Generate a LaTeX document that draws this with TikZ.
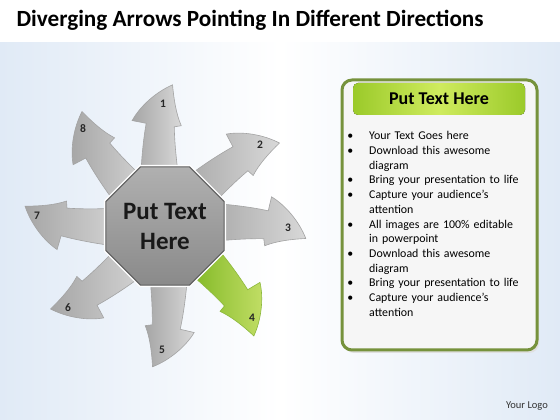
\documentclass[tikz,border=0pt]{standalone}
\usepackage{fontspec}
\setmainfont{Carlito}
\usetikzlibrary{shapes.geometric}
\definecolor{slideblue}{HTML}{E0EAF6}
\definecolor{spokedark}{HTML}{A6A6A6}
\definecolor{spokelight}{HTML}{D8D8D8}
\definecolor{spokeedge}{HTML}{A3A3A3}
\definecolor{leafdark}{HTML}{76B21A}
\definecolor{leaflight}{HTML}{C2DE66}
\definecolor{leafedge}{HTML}{8CB83C}
\definecolor{hubtop}{HTML}{B0B0B0}
\definecolor{hubbottom}{HTML}{8A8A8A}
\definecolor{hubedge}{HTML}{5E5E5E}
\definecolor{boxgreen}{HTML}{76923C}
\definecolor{boxfill}{HTML}{F6F6F6}
\definecolor{barside}{HTML}{9BCA2A}
\definecolor{barmid}{HTML}{CFEB5E}

\tikzset{
  pics/spoke/.style={code={
    \path[#1] (36,24) .. controls (65,23) and (88,20) .. (103,17)
      -- (106,31) .. controls (120,23) and (134,7) .. (141,-10)
      .. controls (127,-11) and (112,-13) .. (100,-18)
      -- (99,-11) .. controls (80,-11) and (60,-13) .. (36,-16) -- cycle;
  }}
}

\begin{document}
\begin{tikzpicture}[x=1pt,y=1pt,
  greyspoke/.style={left color=spokedark,right color=spokelight,draw=spokeedge,line width=0.6pt},
  leafspoke/.style={left color=leafdark,right color=leaflight,draw=leafedge,line width=0.6pt},
  spokenum/.style={font=\fontsize{11.5}{12}\selectfont\bfseries,text=black!85,inner sep=0pt},
  hub/.style={regular polygon,regular polygon sides=8,minimum size=119pt,inner sep=0pt,
    top color=hubtop,bottom color=hubbottom,draw=hubedge,line width=1.2pt,
    preaction={draw=white,line width=4pt},align=center,
    font=\fontsize{25}{30}\selectfont\bfseries,text=black!90}]
  \useasboundingbox (0,0) rectangle (560,420);
  \fill[left color=slideblue,right color=slideblue,middle color=white] (0,0) rectangle (560,378);
  \fill[white] (0,378) rectangle (560,420);

  \node[anchor=base west,font=\fontsize{23.2}{28}\selectfont\bfseries] (title) at (13,393)
    {Diverging Arrows Pointing In Different Directions};

  \pic (s1) at (165,194) {spoke={greyspoke,rotate=91}};
  \pic (s2) at (165,194) {spoke={greyspoke,rotate=40}};
  \pic (s3) at (165,194) {spoke={greyspoke,rotate=-1}};
  \pic (s4) at (165,194) {spoke={leafspoke,rotate=-47}};
  \pic (s5) at (165,194) {spoke={greyspoke,rotate=-91}};
  \pic (s6) at (165,194) {spoke={greyspoke,rotate=-140}};
  \pic (s7) at (165,194) {spoke={greyspoke,rotate=176}};
  \pic (s8) at (165,194) {spoke={greyspoke,rotate=130}};

  \node[hub] (hub) at (165,194) {Put Text\\Here};

  \node[spokenum] (n1) at (163,316) {1};
  \node[spokenum] (n2) at (260,275) {2};
  \node[spokenum] (n3) at (288,192) {3};
  \node[spokenum] (n4) at (252,102) {4};
  \node[spokenum] (n5) at (162,70) {5};
  \node[spokenum] (n6) at (68,112) {6};
  \node[spokenum] (n7) at (37,204) {7};
  \node[spokenum] (n8) at (83,291) {8};

  \fill[black!12,rounded corners=10pt] (344,67) rectangle (539,337);
  \draw[boxgreen,line width=3pt,fill=boxfill,rounded corners=10pt] (342,70) rectangle (537,340);
  \fill[left color=barside,right color=barside,middle color=barmid,rounded corners=5pt] (353,305) rectangle (525,337);
  \node[font=\fontsize{18}{21}\selectfont\bfseries] (head) at (439,321) {Put Text Here};

  \node[anchor=north west,text width=180pt,inner sep=0pt,font=\fontsize{11.9}{14.7}\selectfont] (notes) at (346,295) {%
    \begin{list}{\textbullet}{\setlength\leftmargin{23pt}\setlength\labelsep{16pt}\setlength\labelwidth{7pt}%
      \setlength\itemsep{0pt}\setlength\parsep{0pt}\setlength\topsep{0pt}\setlength\partopsep{0pt}}
    \item Your Text Goes here
    \item Download this awesome\newline diagram
    \item Bring your presentation to life
    \item Capture your audience’s\newline attention
    \item All images are 100\% editable\newline in powerpoint
    \item Download this awesome\newline diagram
    \item Bring your presentation to life
    \item Capture your audience’s\newline attention
    \end{list}};

  \node[font=\fontsize{10.5}{12}\selectfont,text=black!80] (logo) at (527,14) {Your Logo};
\end{tikzpicture}
\end{document}
